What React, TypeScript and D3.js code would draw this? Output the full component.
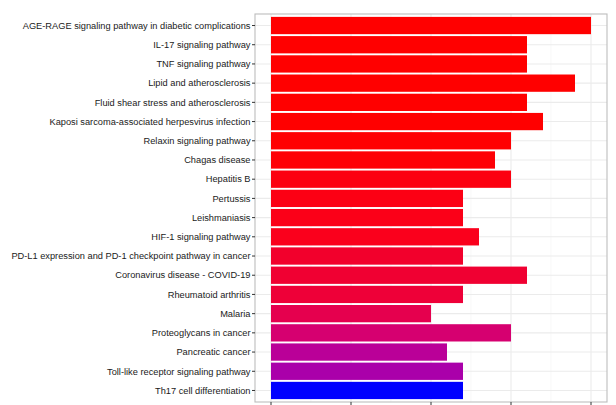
import React from "react";
import * as d3 from "d3";

const categories = [
  "AGE-RAGE signaling pathway in diabetic complications",
  "IL-17 signaling pathway",
  "TNF signaling pathway",
  "Lipid and atherosclerosis",
  "Fluid shear stress and atherosclerosis",
  "Kaposi sarcoma-associated herpesvirus infection",
  "Relaxin signaling pathway",
  "Chagas disease",
  "Hepatitis B",
  "Pertussis",
  "Leishmaniasis",
  "HIF-1 signaling pathway",
  "PD-L1 expression and PD-1 checkpoint pathway in cancer",
  "Coronavirus disease - COVID-19",
  "Rheumatoid arthritis",
  "Malaria",
  "Proteoglycans in cancer",
  "Pancreatic cancer",
  "Toll-like receptor signaling pathway",
  "Th17 cell differentiation",
];
const counts = [20, 16, 16, 19, 16, 17, 15, 14, 15, 12, 12, 13, 12, 16, 12, 10, 15, 11, 12, 12];
const barColors = [
  "#FF0000", "#FF0000", "#FF0000", "#FF0000", "#FF0000", "#FF0000", "#FF0002",
  "#FE0006", "#FC0010", "#FC0014", "#FB0018", "#FA001C", "#F2002C", "#F00032",
  "#EE0038", "#E5004E", "#D60070", "#BA0098", "#AA00AA", "#0000FF",
];
const xTicks = [0, 5, 10, 15, 20];

export default function App() {
  const W = 616, H = 405;
  const left = 255, right = 607, top = 14, bottom = 402;
  const x = d3.scaleLinear().domain([-1, 21]).range([left, right]);
  const y = d3.scaleBand().domain(categories).range([top, bottom]).paddingInner(0.1).paddingOuter(0.15);
  const bw = y.bandwidth();
  const minor = [2.5, 7.5, 12.5, 17.5];
  return (
    <svg width={W} height={H} style={{ position: "absolute", left: 0, top: 0, background: "#fff" }}
      fontFamily="Liberation Sans, Arial, sans-serif">
      <rect x={left} y={top} width={right - left} height={bottom - top} fill="#fff" />
      {minor.map((t) => (
        <line key={"mn" + t} x1={x(t)} x2={x(t)} y1={top} y2={bottom} stroke="#F3F3F3" strokeWidth={0.6} />
      ))}
      {xTicks.map((t) => (
        <line key={"mj" + t} x1={x(t)} x2={x(t)} y1={top} y2={bottom} stroke="#EBEBEB" strokeWidth={1.1} />
      ))}
      {categories.map((c) => (
        <line key={"hg" + c} x1={left} x2={right} y1={y(c)! + bw / 2} y2={y(c)! + bw / 2} stroke="#EBEBEB" strokeWidth={1.1} />
      ))}
      {categories.map((c, i) => (
        <rect key={"b" + c} x={x(0)} y={y(c)!} width={x(counts[i]) - x(0)} height={bw} fill={barColors[i]} />
      ))}
      <rect x={left} y={top} width={right - left} height={bottom - top} fill="none" stroke="#BDBDBD" strokeWidth={1.1} />
      {categories.map((c) => (
        <g key={"yl" + c}>
          <line x1={left - 3} x2={left} y1={y(c)! + bw / 2} y2={y(c)! + bw / 2} stroke="#333" strokeWidth={1} />
          <text x={left - 4.5} y={y(c)! + bw / 2} dy="0.35em" textAnchor="end" fontSize={9.25} fill="#1a1a1a">{c}</text>
        </g>
      ))}
      {xTicks.map((t) => (
        <line key={"xt" + t} x1={x(t)} x2={x(t)} y1={bottom} y2={bottom + 4} stroke="#333" strokeWidth={1} />
      ))}
    </svg>
  );
}
